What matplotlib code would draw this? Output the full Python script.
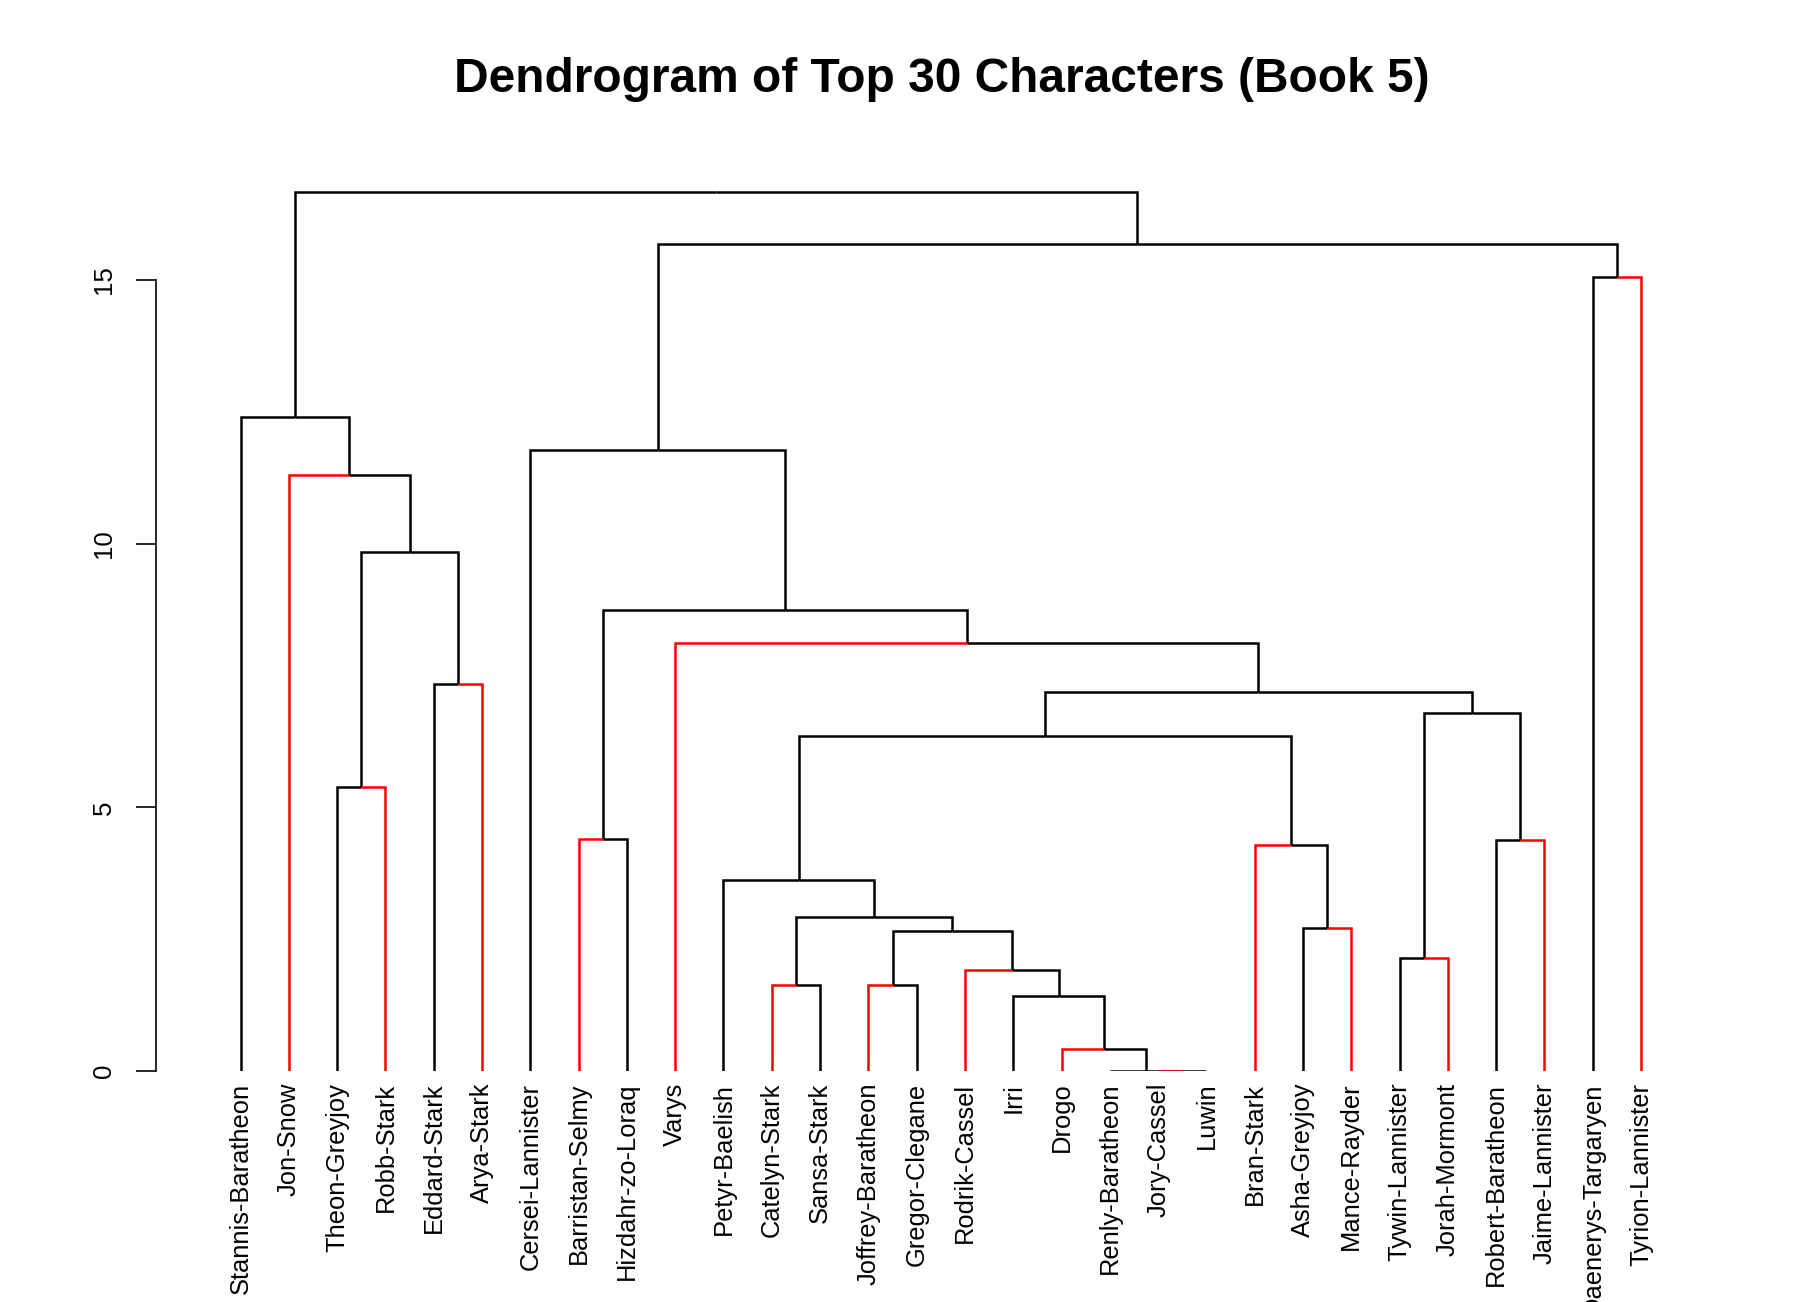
import matplotlib.pyplot as plt

plt.rcParams['font.family'] = ['Liberation Sans', 'DejaVu Sans']

# leaf labels in plotting order
labels = ["Stannis-Baratheon", "Jon-Snow", "Theon-Greyjoy", "Robb-Stark",
          "Eddard-Stark", "Arya-Stark", "Cersei-Lannister", "Barristan-Selmy",
          "Hizdahr-zo-Loraq", "Varys", "Petyr-Baelish", "Catelyn-Stark",
          "Sansa-Stark", "Joffrey-Baratheon", "Gregor-Clegane", "Rodrik-Cassel",
          "Irri", "Drogo", "Renly-Baratheon", "Jory-Cassel", "Luwin",
          "Bran-Stark", "Asha-Greyjoy", "Mance-Rayder", "Tywin-Lannister",
          "Jorah-Mormont", "Robert-Baratheon", "Jaime-Lannister",
          "Daenerys-Targaryen", "Tyrion-Lannister"]

red_leaves = ["Jon-Snow", "Robb-Stark", "Arya-Stark", "Barristan-Selmy", "Varys",
              "Catelyn-Stark", "Joffrey-Baratheon", "Rodrik-Cassel", "Drogo",
              "Jory-Cassel", "Bran-Stark", "Mance-Rayder", "Jorah-Mormont",
              "Jaime-Lannister", "Tyrion-Lannister"]

# hclust style merges: negative = leaf position, positive = earlier merge
merge_left = [-20, -19, -18, -17, -16, -14, 6, -12, 8, -11, -23, -22, 10, -25,
              -27, 14, 13, -10, -8, 19, -7, -29, 21, -3, -5, 24, -2, -1, 28]
merge_right = [-21, 1, 2, 3, 4, -15, 5, -13, 7, 9, -24, 11, 12, -26,
               -28, 15, 16, 17, -9, 18, 20, -30, 22, -4, -6, 25, 26, 27, 23]
heights = [0.0, 0.0, 0.41, 1.43, 1.92, 1.64, 2.65, 1.64, 2.92, 3.63, 2.72, 4.29,
           6.36, 2.15, 4.39, 6.79, 7.19, 8.11, 4.40, 8.75, 11.77, 15.05, 15.68,
           5.38, 7.33, 9.84, 11.31, 12.40, 16.66]


def node_pos(i):
    if i < 0:
        return float(-i), 0.0
    lx, _ = node_pos(merge_left[i - 1])
    rx, _ = node_pos(merge_right[i - 1])
    return (lx + rx) / 2.0, heights[i - 1]


def draw_node(ax, i):
    # parent edges first, children drawn on top (like R's plotNode)
    px, ph = node_pos(i)
    for child in (merge_left[i - 1], merge_right[i - 1]):
        cx, ch = node_pos(child)
        col = 'black'
        if child < 0 and labels[-child - 1] in red_leaves:
            col = 'red'
        ax.plot([px, cx, cx], [ph, ph, ch], color=col, lw=1.8,
                solid_joinstyle='miter', solid_capstyle='butt')
    for child in (merge_left[i - 1], merge_right[i - 1]):
        if child > 0:
            draw_node(ax, child)


fig = plt.figure(figsize=(18.06, 13.02), dpi=100)
ax = fig.add_axes([0.0862, 0.1774, 0.8492, 0.7088])
ax.set_xlim(-0.758, 31)
ax.set_ylim(0, 17.5)

draw_node(ax, len(heights))

for k, lab in enumerate(labels):
    ax.text(k + 1, -0.22, lab, rotation=90, ha='center', va='top',
            fontsize=18.4)

for s in ['top', 'right', 'bottom']:
    ax.spines[s].set_visible(False)
ax.spines['left'].set_bounds(0, 15)
ax.spines['left'].set_linewidth(1.2)
ax.set_xticks([])
ax.set_yticks([0, 5, 10, 15])
ax.tick_params(axis='y', length=14.4, width=1.2, pad=14, labelsize=18.6,
               labelrotation=90)
for t in ax.get_yticklabels():
    t.set_va('center')

fig.text(0.5216, 0.9386, "Dendrogram of Top 30 Characters (Book 5)",
         ha='center', va='center', fontsize=34.5, fontweight='bold')

fig.savefig('out.png', dpi=100)
